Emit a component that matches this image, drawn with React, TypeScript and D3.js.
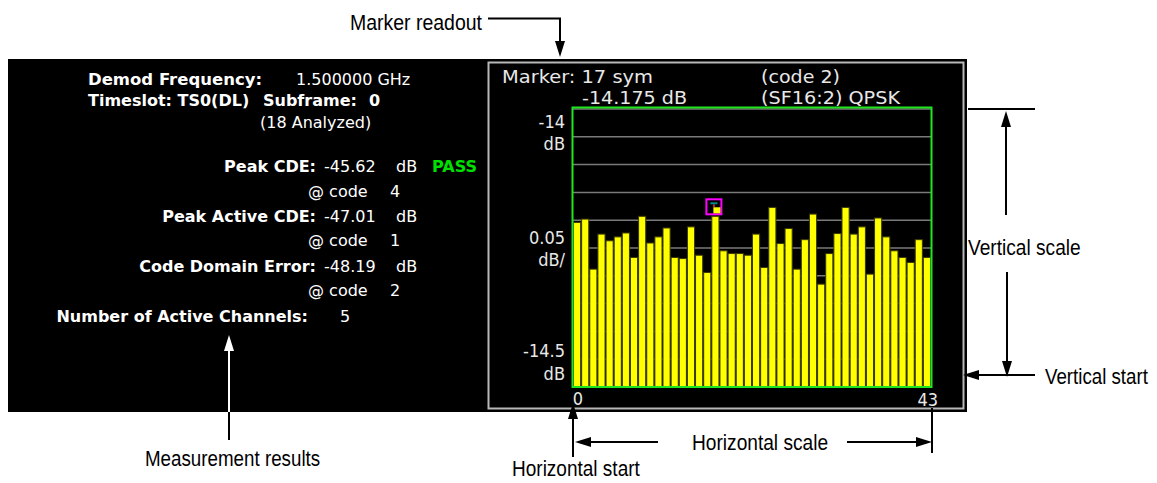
import React from "react";
import * as d3 from "d3";

const codes: number[] = d3.range(44);
const cdeValues: number[] = [
  -14.204, -14.198, -14.288, -14.225, -14.237, -14.23, -14.223, -14.267, -14.193, -14.241,
  -14.23, -14.214, -14.267, -14.269, -14.212, -14.263, -14.294, -14.193, -14.255, -14.26,
  -14.26, -14.263, -14.225, -14.285, -14.177, -14.242, -14.215, -14.288, -14.235, -14.189,
  -14.315, -14.26, -14.224, -14.177, -14.225, -14.212, -14.297, -14.196, -14.23, -14.255,
  -14.267, -14.276, -14.235, -14.267,
];
const yDomain: [number, number] = [-14.5, -14];
const xTickLabels: string[] = ["0", "43"];
const markerCode = 17;
const markerValue = -14.175;

const W = 1157;
const H = 483;

const plotL = 573, plotR = 931, plotT = 109, plotB = 387;

export default function App() {
  const x = d3.scaleBand<number>().domain(codes).range([plotL, plotR]).padding(0);
  const y = d3.scaleLinear().domain(yDomain).range([plotB, plotT]);
  const grid = y.ticks(10);
  const bw = x.bandwidth();

  const chartFont = "'DejaVu Sans Condensed', 'DejaVu Sans', sans-serif";
  const panelFont = "'DejaVu Sans', sans-serif";
  const annFont = "'Liberation Sans', Arial, sans-serif";

  const mx = (x(markerCode) as number) + bw / 2;
  const my = y(markerValue);

  const arrowUp = (cx: number, tip: number) =>
    `M${cx},${tip} L${cx - 5},${tip + 16} L${cx + 5},${tip + 16} Z`;
  const arrowDown = (cx: number, tip: number) =>
    `M${cx},${tip} L${cx - 5},${tip - 16} L${cx + 5},${tip - 16} Z`;
  const arrowLeft = (tip: number, cy: number) =>
    `M${tip},${cy} L${tip + 16},${cy - 5} L${tip + 16},${cy + 5} Z`;
  const arrowRight = (tip: number, cy: number) =>
    `M${tip},${cy} L${tip - 16},${cy - 5} L${tip - 16},${cy + 5} Z`;

  const ann = (t: string, x0: number, y0: number, sx: number) => (
    <g transform={`translate(${x0},${y0}) scale(${sx},1)`}>
      <text x={0} y={0}>{t}</text>
    </g>
  );

  return (
    <svg
      width={W}
      height={H}
      style={{ position: "absolute", left: 0, top: 0, background: "#fff" }}
    >
      {/* black instrument panel */}
      <rect x={8} y={59} width={959} height={353} fill="#000" />

      {/* left measurement results */}
      <g fontFamily={panelFont} fontSize={16} fill="#fff">
        <text x={88} y={85} fontWeight="bold" textLength={174} lengthAdjust="spacingAndGlyphs">Demod Frequency:</text>
        <text x={296} y={85}>1.500000 GHz</text>
        <text x={88} y={106} fontWeight="bold">Timeslot: TS0(DL)</text>
        <text x={263} y={106} fontWeight="bold">Subframe:</text>
        <text x={369} y={106} fontWeight="bold">0</text>
        <text x={260} y={128}>(18 Analyzed)</text>

        <text x={316} y={172} textAnchor="end" fontWeight="bold">Peak CDE:</text>
        <text x={324} y={172}>-45.62</text>
        <text x={396} y={172}>dB</text>
        <text x={432} y={172} fill="#00e000" fontWeight="bold">PASS</text>
        <text x={308} y={197}>@ code</text>
        <text x={390} y={197}>4</text>

        <text x={316} y={222} textAnchor="end" fontWeight="bold">Peak Active CDE:</text>
        <text x={324} y={222}>-47.01</text>
        <text x={396} y={222}>dB</text>
        <text x={308} y={246}>@ code</text>
        <text x={390} y={246}>1</text>

        <text x={316} y={272} textAnchor="end" fontWeight="bold">Code Domain Error:</text>
        <text x={324} y={272}>-48.19</text>
        <text x={396} y={272}>dB</text>
        <text x={308} y={296}>@ code</text>
        <text x={390} y={296}>2</text>

        <text x={308} y={322} textAnchor="end" fontWeight="bold">Number of Active Channels:</text>
        <text x={340} y={322}>5</text>
      </g>

      {/* chart window frame */}
      <rect x={488.5} y={62.5} width={475} height={346} fill="none" stroke="#b8b8b8" strokeWidth={2} />

      {/* marker readout */}
      <g fontFamily={chartFont} fontSize={18} fill="#e8e8e8">
        <text x={502} y={83} textLength={151} lengthAdjust="spacingAndGlyphs">Marker: 17 sym</text>
        <text x={582} y={104} textLength={105} lengthAdjust="spacingAndGlyphs">-14.175 dB</text>
        <text x={761} y={83} textLength={79} lengthAdjust="spacingAndGlyphs">(code 2)</text>
        <text x={761} y={104} textLength={139} lengthAdjust="spacingAndGlyphs">(SF16:2) QPSK</text>
      </g>

      {/* y labels */}
      <g fontFamily={chartFont} fontSize={18} fill="#e8e8e8" textAnchor="end">
        <text x={565} y={128}>-14</text>
        <text x={565} y={150}>dB</text>
        <text x={565} y={244}>0.05</text>
        <text x={565} y={266}>dB/</text>
        <text x={565} y={357}>-14.5</text>
        <text x={565} y={380}>dB</text>
      </g>

      {/* gridlines */}
      {grid.map((g) => (
        <line key={g} x1={plotL} x2={plotR} y1={y(g)} y2={y(g)} stroke="#7a7a7a" strokeWidth={1.5} />
      ))}

      {/* bars */}
      {codes.map((c, i) => (
        <rect
          key={c}
          x={(x(c) as number) + 0.5}
          y={y(cdeValues[i])}
          width={bw - 1}
          height={plotB - y(cdeValues[i])}
          fill="#ffff00"
          stroke="#3a3a00"
          strokeWidth={1}
        />
      ))}

      {/* plot frame */}
      <rect x={plotL - 0.5} y={plotT - 1.5} width={plotR - plotL + 1} height={plotB - plotT + 1.5} fill="none" stroke="#1ee61e" strokeWidth={2} />

      {/* marker */}
      <g>
        <rect x={mx - 9} y={my - 7} width={15} height={15} fill="#000" stroke="#ff00ff" strokeWidth={2} />
        <rect x={mx - 5} y={my - 4} width={7} height={2} fill="#008c8c" />
        <rect x={mx - 2.5} y={my - 2} width={2} height={3} fill="#b03030" />
        <rect x={mx - 2} y={my + 1} width={7} height={6} fill="#ffff00" />
      </g>

      {/* x labels */}
      <g fontFamily={chartFont} fontSize={18} fill="#e8e8e8">
        <text x={(x(0) as number) + 5} y={405} textAnchor="middle">{xTickLabels[0]}</text>
        <text x={plotR + 7} y={406} textAnchor="end">{xTickLabels[1]}</text>
      </g>

      {/* annotations */}
      <g fontFamily={annFont} fontSize={22} fill="#000">
        {ann("Marker readout", 350, 30, 0.885)}
        {ann("Vertical scale", 968, 255, 0.87)}
        {ann("Vertical start", 1045, 384, 0.85)}
        {ann("Horizontal scale", 692, 450, 0.87)}
        {ann("Horizontal start", 512, 476, 0.865)}
        {ann("Measurement results", 145, 466, 0.853)}
      </g>
      <g stroke="#000" strokeWidth={2} fill="none">
        <polyline points="488,18.5 560,18.5 560,45" />
        <line x1={968} x2={1035} y1={109} y2={109} />
        <line x1={1006} x2={1006} y1={215} y2={125} />
        <line x1={1007} x2={1007} y1={272} y2={362} />
        <line x1={975} x2={1035} y1={375} y2={375} />
        <line x1={573} x2={573} y1={457} y2={415} />
        <line x1={585} x2={658} y1={442} y2={442} />
        <line x1={847} x2={920} y1={442} y2={442} />
        <line x1={932} x2={932} y1={408} y2={453} />
        <line x1={229} x2={229} y1={412} y2={440} />
      </g>
      <line x1={229} x2={229} y1={348} y2={412} stroke="#fff" strokeWidth={2} />
      <g fill="#000">
        <path d={arrowDown(560, 57)} />
        <path d={arrowUp(1006, 111)} />
        <path d={arrowDown(1007, 377)} />
        <path d={arrowLeft(963, 375)} />
        <path d={arrowUp(573, 403)} />
        <path d={arrowLeft(575, 442)} />
        <path d={arrowRight(932, 442)} />
      </g>
      <path d={arrowUp(229, 335)} fill="#fff" />
    </svg>
  );
}
